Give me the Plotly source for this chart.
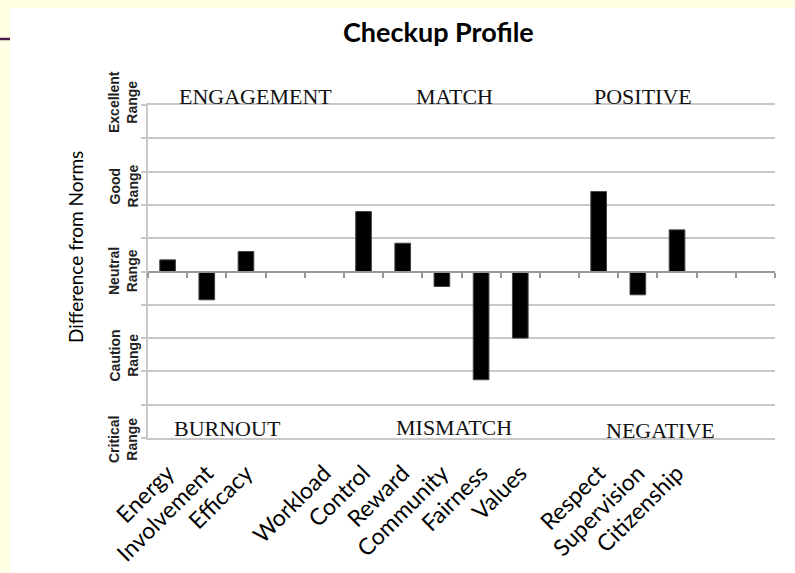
import plotly.graph_objects as go

# ---- data ----
categories = ["Energy", "Involvement", "Efficacy", "", "Workload", "Control", "Reward",
              "Community", "Fairness", "Values", "", "Respect", "Supervision",
              "Citizenship", "", ""]
values = [0.07, -0.17, 0.12, None, 0.0, 0.36, 0.17, -0.09, -0.65, -0.40, None,
          0.48, -0.14, 0.25, None, None]
range_labels = ["Excellent<br>Range", "Good<br>Range", "Neutral<br>Range",
                "Caution<br>Range", "Critical<br>Range"]
top_groups = ["ENGAGEMENT", "MATCH", "POSITIVE"]
bottom_groups = ["BURNOUT", "MISMATCH", "NEGATIVE"]

# ---- layout geometry (pixels) ----
W, H = 795, 573
L, R, T, B = 148, 775, 105, 438
YMIN, YMAX = -1.0, 1.0
CREAM = "#FFFFE3"


def px(x):
    return (x - L) / (R - L)


def py(y):
    return (B - y) / (B - T)


n = len(categories)
xs = list(range(n))

fig = go.Figure()
fig.add_trace(go.Bar(
    x=xs, y=values, width=0.4,
    marker=dict(color="black", line=dict(color="#444", width=1)),
    hoverinfo="x+y", showlegend=False,
))
# invisible helper trace for the zero-line axis
fig.add_trace(go.Scatter(
    x=[xs[0], xs[-1]], y=[0, 0], xaxis="x2", mode="lines",
    line=dict(width=0, color="rgba(0,0,0,0)"), hoverinfo="skip", showlegend=False,
))

annotations = []
annotations.append(dict(text="<b>Checkup Profile</b>", x=px(438), y=py(32),
                        xref="paper", yref="paper", showarrow=False,
                        font=dict(family="Lato", size=27, color="black"),
                        xanchor="center", yanchor="middle"))
annotations.append(dict(text="Difference from Norms", x=px(75), y=py(247),
                        xref="paper", yref="paper", showarrow=False, textangle=-90,
                        font=dict(family="Lato", size=19, color="black"),
                        xanchor="center", yanchor="middle"))
range_y = [102, 186.5, 271, 355.5, 440]
for lab, yy in zip(range_labels, range_y):
    annotations.append(dict(text="<b>" + lab + "</b>", x=px(123), y=py(yy),
                            xref="paper", yref="paper", showarrow=False, textangle=-90,
                            font=dict(family="Liberation Sans", size=14, color="#222"),
                            xanchor="center", yanchor="middle"))
for lab, xx in zip(top_groups, [255, 454, 643]):
    annotations.append(dict(text=lab, x=px(xx), y=py(96), xref="paper", yref="paper",
                            showarrow=False,
                            font=dict(family="Liberation Serif", size=22, color="#111"),
                            xanchor="center", yanchor="middle"))
for lab, xx, yy in zip(bottom_groups, [227, 454, 660], [428, 427, 430]):
    annotations.append(dict(text=lab, x=px(xx), y=py(yy), xref="paper", yref="paper",
                            showarrow=False,
                            font=dict(family="Liberation Serif", size=22, color="#111"),
                            xanchor="center", yanchor="middle"))

shapes = [
    dict(type="rect", xref="paper", yref="paper", x0=px(10), x1=px(W + 5),
         y0=py(8), y1=py(H + 5), fillcolor="white", line=dict(width=0), layer="below"),
    dict(type="line", xref="paper", yref="paper", x0=px(0), x1=px(10),
         y0=py(39), y1=py(39), line=dict(color="#4a1a4a", width=2.5)),
]

grid_col = "#c8c8c8"
fig.update_layout(
    width=W, height=H,
    margin=dict(l=L, r=W - R, t=T, b=H - B, pad=0, autoexpand=False),
    paper_bgcolor=CREAM,
    plot_bgcolor="white",
    showlegend=False,
    annotations=annotations,
    shapes=shapes,
    xaxis=dict(
        range=[-0.5, n - 0.5], tickmode="array", tickvals=xs, ticktext=categories,
        tickangle=-45, ticks="outside", ticklen=11, tickcolor="rgba(0,0,0,0)",
        tickfont=dict(family="Lato", size=23, color="black"), automargin=False,
        showgrid=False, zeroline=False, showline=True, mirror=True,
        linecolor=grid_col, linewidth=1.5, fixedrange=True,
    ),
    xaxis2=dict(
        overlaying="x", anchor="free", position=(0 - YMIN) / (YMAX - YMIN),
        range=[-0.5, n - 0.5], tickmode="array", automargin=False,
        tickvals=[i - 0.5 for i in range(n + 1)],
        ticks="outside", ticklen=5, tickcolor="#999", tickwidth=1.5,
        showticklabels=False, showgrid=False, zeroline=False,
        showline=True, linecolor="#999", linewidth=2, side="bottom",
    ),
    yaxis=dict(
        range=[YMIN, YMAX], dtick=0.2, tick0=0, showticklabels=False, automargin=False,
        ticks="outside", ticklen=5, tickcolor=grid_col, tickwidth=1.5,
        showgrid=True, gridcolor=grid_col, gridwidth=1.5,
        zeroline=False, showline=True, linecolor=grid_col, linewidth=1.5,
        fixedrange=True,
    ),
)

fig.write_html(
    "out.html",
    config={"displayModeBar": False},
    post_script="document.body.style.margin='0';document.body.style.background='" + CREAM + "';",
)
